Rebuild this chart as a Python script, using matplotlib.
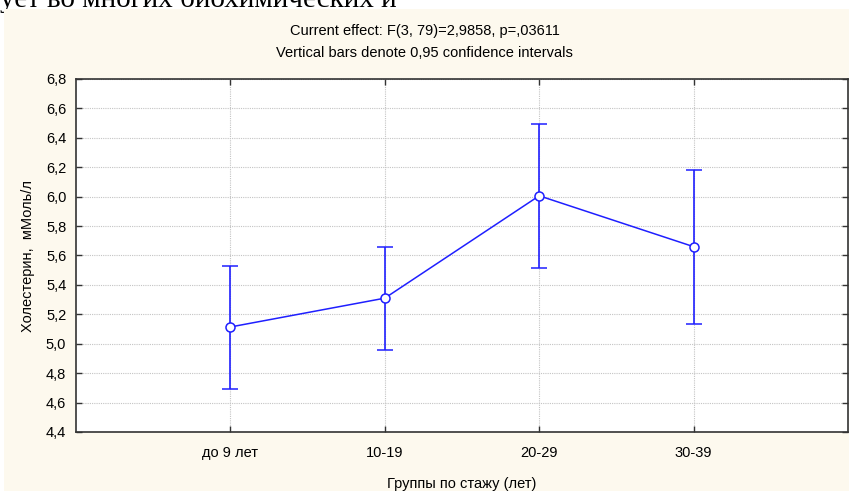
import matplotlib
matplotlib.use("Agg")
import matplotlib.pyplot as plt
from matplotlib.ticker import FixedLocator, FuncFormatter
from matplotlib.patches import Rectangle

categories = ["до 9 лет", "10-19", "20-29", "30-39"]
means = [5.114, 5.31, 6.006, 5.66]
upper = [5.53, 5.66, 6.494, 6.18]
lower = [4.694, 4.957, 5.517, 5.134]
yticks = [4.4, 4.6, 4.8, 5.0, 5.2, 5.4, 5.6, 5.8, 6.0, 6.2, 6.4, 6.6, 6.8]
title1 = "Current effect: F(3, 79)=2,9858, p=,03611"
title2 = "Vertical bars denote 0,95 confidence intervals"
xlabel = "Группы по стажу (лет)"
ylabel = "Холестерин,  мМоль/л"
cut_text = "ует во многих биохимических и"

W, H = 849, 491
FS = 10.5
plt.rcParams['font.family'] = ['Liberation Sans', 'DejaVu Sans']
fig = plt.figure(figsize=(W / 100, H / 100), dpi=100)
fig.patch.set_facecolor("white")

cream = "#fdf9ee"
rect = Rectangle((4 / W, 0.0), 1 - 4 / W, (H - 9) / H,
                 transform=fig.transFigure, facecolor=cream,
                 edgecolor="none", zorder=-5)
fig.add_artist(rect)
fig.text(0.0, 1 - 7 / H, cut_text, family="Liberation Serif", fontsize=21,
         ha="left", va="baseline", color="black", zorder=-10)

left, right, top, bottom = 76, 848, 79, 432
ax = fig.add_axes([left / W, (H - bottom) / H, (right - left) / W, (bottom - top) / H])
ax.set_facecolor("white")
ax.set_zorder(1)

x = list(range(1, len(categories) + 1))
yerr = [[m - l for m, l in zip(means, lower)], [u - m for m, u in zip(means, upper)]]
ax.errorbar(x, means, yerr=yerr, color="#1f1fff", lw=1.1, elinewidth=1.2,
            capsize=6, capthick=1.4, marker="o", markersize=6.5,
            markerfacecolor="white", markeredgecolor="#1f1fff",
            markeredgewidth=1.1, zorder=3)

ax.set_xlim(0, 5)
ax.set_ylim(4.4, 6.8)
ax.xaxis.set_major_locator(FixedLocator(x))
ax.set_xticklabels(categories)
ax.yaxis.set_major_locator(FixedLocator(yticks))
ax.yaxis.set_major_formatter(FuncFormatter(lambda v, p: f"{v:.1f}".replace(".", ",")))

ax.grid(True, color="#c4c4c4", linestyle=(0, (1, 1)), linewidth=0.8, zorder=0)
ax.set_axisbelow(True)
ax.tick_params(direction="in", length=4, width=1, top=True, right=True,
               labelsize=FS, colors="#333333", labelcolor="black")
ax.tick_params(axis="y", pad=7)
ax.tick_params(axis="x", pad=10)
for s in ax.spines.values():
    s.set_color("#333333")
    s.set_linewidth(1.2)

ax.set_xlabel(xlabel, fontsize=FS, labelpad=12)
ax.set_ylabel(ylabel, fontsize=FS, labelpad=8)

fig.text(0.5, 1 - 31 / H, title1, ha="center", va="center", fontsize=FS)
fig.text(0.5, 1 - 53 / H, title2, ha="center", va="center", fontsize=FS)

fig.savefig("out.png", dpi=100)
